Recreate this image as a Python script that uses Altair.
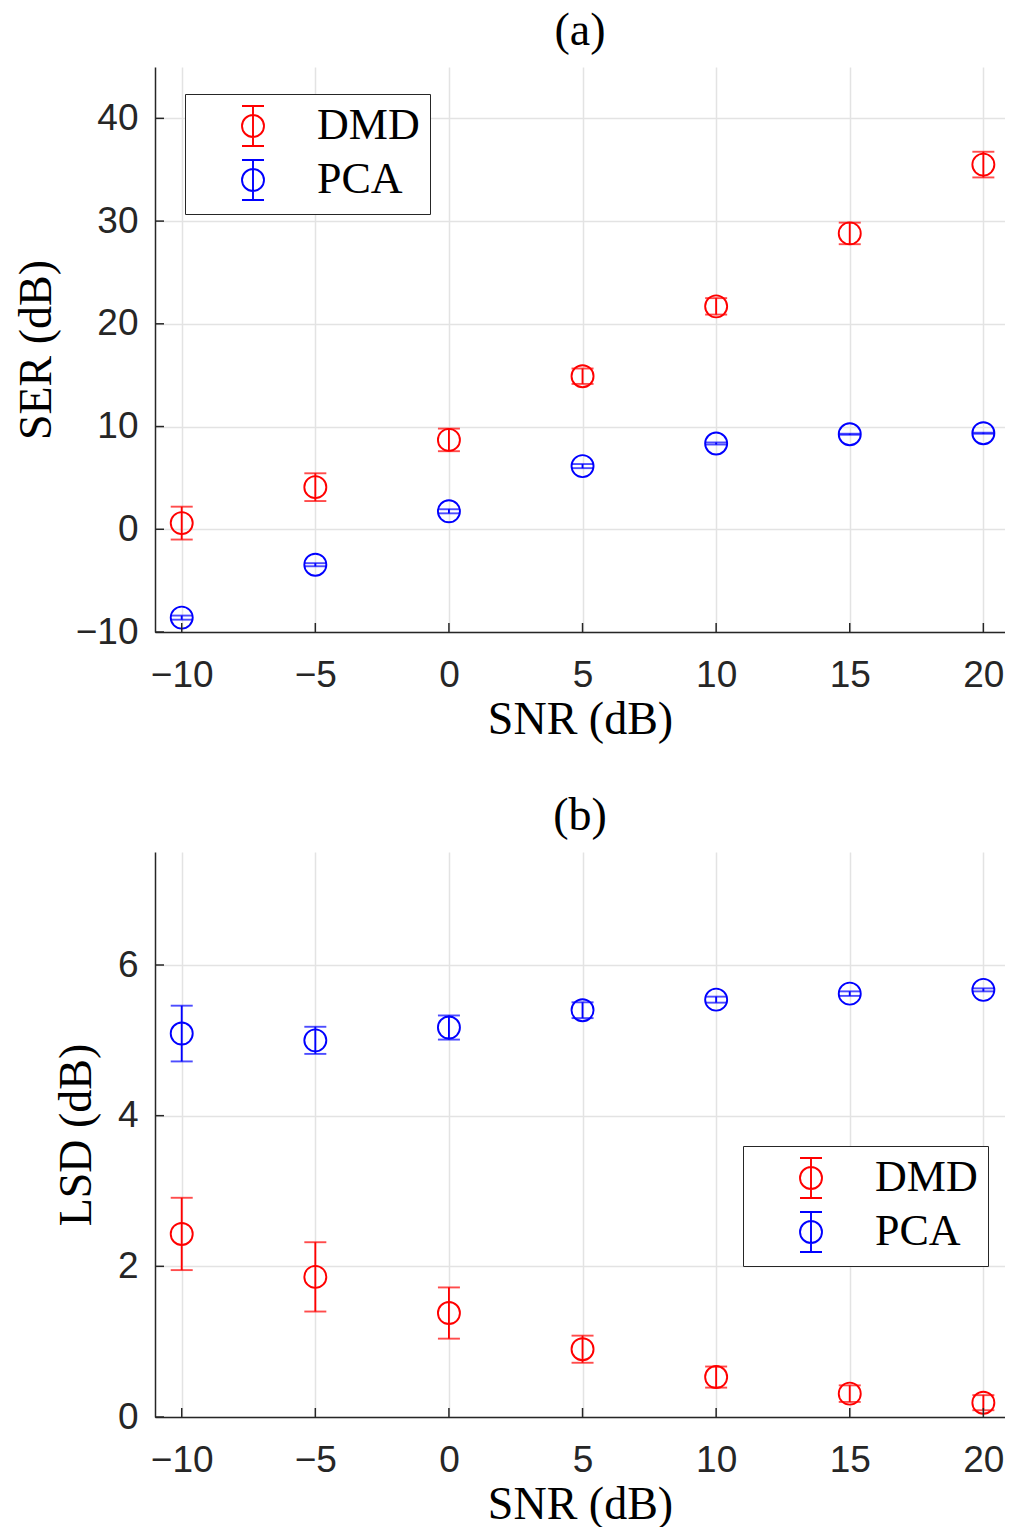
import altair as alt
import pandas as pd

# ---------------- data ----------------
snr = [-10, -5, 0, 5, 10, 15, 20]
methods = ["DMD", "PCA"]
method_colors = ["#ff0000", "#0000ff"]

ser_dmd = [0.6, 4.1, 8.7, 14.9, 21.7, 28.8, 35.5]
ser_dmd_err = [1.6, 1.35, 1.1, 0.75, 0.8, 1.05, 1.25]
ser_pca = [-8.6, -3.45, 1.75, 6.15, 8.35, 9.25, 9.35]
ser_pca_err = [0.2, 0.15, 0.2, 0.2, 0.1, 0.05, 0.05]

lsd_dmd = [2.43, 1.86, 1.38, 0.90, 0.53, 0.31, 0.19]
lsd_dmd_err = [0.48, 0.46, 0.34, 0.18, 0.14, 0.11, 0.10]
lsd_pca = [5.09, 5.00, 5.17, 5.40, 5.54, 5.62, 5.67]
lsd_pca_err = [0.37, 0.18, 0.16, 0.105, 0.04, 0.03, 0.02]

x_ticks = [-10, -5, 0, 5, 10, 15, 20]
ser_ticks = [-10, 0, 10, 20, 30, 40]
lsd_ticks = [0, 2, 4, 6]

W, H = 850, 565
AXIS_COLOR = "#262626"
SW = 1.9
# circle drawn twice with opposite windings so that it is never filled,
# plus the vertical error bar with its two caps
SYMBOL_PATH = ("M-0.55,0A0.55,0.55 0 1,1 0.55,0A0.55,0.55 0 1,1 -0.55,0Z "
               "M-0.55,0A0.55,0.55 0 1,0 0.55,0A0.55,0.55 0 1,0 -0.55,0Z "
               "M0,-1L0,1 M-0.55,-1L0.55,-1 M-0.55,1L0.55,1")


def make_df(dmd, dmd_err, pca, pca_err):
    rows = []
    for m, vals, errs in (("DMD", dmd, dmd_err), ("PCA", pca, pca_err)):
        for s, v, e in zip(snr, vals, errs):
            rows.append({"snr": s, "val": v, "lo": v - e, "hi": v + e, "method": m})
    return pd.DataFrame(rows)


def panel(df, title, ytitle, ydomain, yticks, ytitle_x, legend_x, legend_y):
    xscale = alt.Scale(domain=[-11, 20.81], nice=False, zero=False)
    yscale = alt.Scale(domain=ydomain, nice=False, zero=False)
    xaxis = alt.Axis(values=x_ticks, title="SNR (dB)", titleY=101,
                     titleBaseline="alphabetic", labelBaseline="alphabetic",
                     labelPadding=54, format="d")
    yaxis = alt.Axis(values=yticks, title=ytitle, titleX=ytitle_x,
                     titleBaseline="alphabetic", labelPadding=17, format="d")

    legend = alt.Legend(
        orient="none", legendX=legend_x, legendY=legend_y, title=None,
        symbolType=SYMBOL_PATH, symbolSize=1600, symbolStrokeWidth=SW,
        symbolFillColor="transparent", symbolOpacity=1,
        labelFont="Liberation Serif",
        labelFontSize=44, labelColor="black", padding=10, rowPadding=6,
        symbolOffset=36, labelOffset=42, strokeColor=AXIS_COLOR,
        fillColor="white",
    )
    color = alt.Color("method:N", scale=alt.Scale(domain=methods, range=method_colors), legend=legend)

    base = alt.Chart(df)
    x = alt.X("snr:Q", scale=xscale, axis=xaxis)

    pts = base.mark_point(shape="circle", size=484, filled=False, strokeWidth=SW, opacity=1).encode(
        x=x, y=alt.Y("val:Q", scale=yscale, axis=yaxis), color=color)
    bars = base.mark_rule(strokeWidth=SW).encode(
        x=x, y=alt.Y("lo:Q", scale=yscale, axis=yaxis), y2="hi:Q", color=color)
    cap_lo = base.mark_tick(orient="horizontal", size=22, thickness=SW).encode(
        x=x, y=alt.Y("lo:Q", scale=yscale, axis=yaxis), color=color)
    cap_hi = base.mark_tick(orient="horizontal", size=22, thickness=SW).encode(
        x=x, y=alt.Y("hi:Q", scale=yscale, axis=yaxis), color=color)

    xt = alt.Chart(pd.DataFrame({"t": x_ticks})).mark_rule(color=AXIS_COLOR, strokeWidth=1.5).encode(
        x=alt.X("t:Q", scale=xscale, axis=xaxis), y=alt.value(H), y2=alt.value(H - 9))
    yt = alt.Chart(pd.DataFrame({"t": yticks})).mark_rule(color=AXIS_COLOR, strokeWidth=1.5).encode(
        y=alt.Y("t:Q", scale=yscale, axis=yaxis), x=alt.value(0), x2=alt.value(9))

    return alt.layer(pts, bars, cap_lo, cap_hi, xt, yt).properties(
        width=W, height=H,
        title=alt.TitleParams(text=title, font="Liberation Serif", fontSize=46,
                              fontWeight="normal", offset=-24, baseline="alphabetic",
                              anchor="middle", color="black"),
    )


df_a = make_df(ser_dmd, ser_dmd_err, ser_pca, ser_pca_err)
df_b = make_df(lsd_dmd, lsd_dmd_err, lsd_pca, lsd_pca_err)

pa = panel(df_a, "(a)", "SER (dB)", [-10, 45], ser_ticks, -105, 30, 27)
pb = panel(df_b, "(b)", "LSD (dB)", [0, 7.5], lsd_ticks, -65, 588, 294)

chart = alt.vconcat(pa, pb, spacing=51).resolve_scale(color="independent").configure(
    padding={"left": 5, "top": 0, "right": 0, "bottom": 0}
).configure_view(stroke=None).configure_axis(
    domainColor=AXIS_COLOR, domainWidth=1.5, ticks=False,
    gridColor="#e3e3e3", gridWidth=1.5,
    labelFont="Liberation Sans", labelFontSize=37, labelColor=AXIS_COLOR,
    titleFont="Liberation Serif", titleFontSize=46, titleFontWeight="normal",
    titleColor="black",
)

chart.save("out.html", embed_options={"renderer": "svg", "actions": False})
